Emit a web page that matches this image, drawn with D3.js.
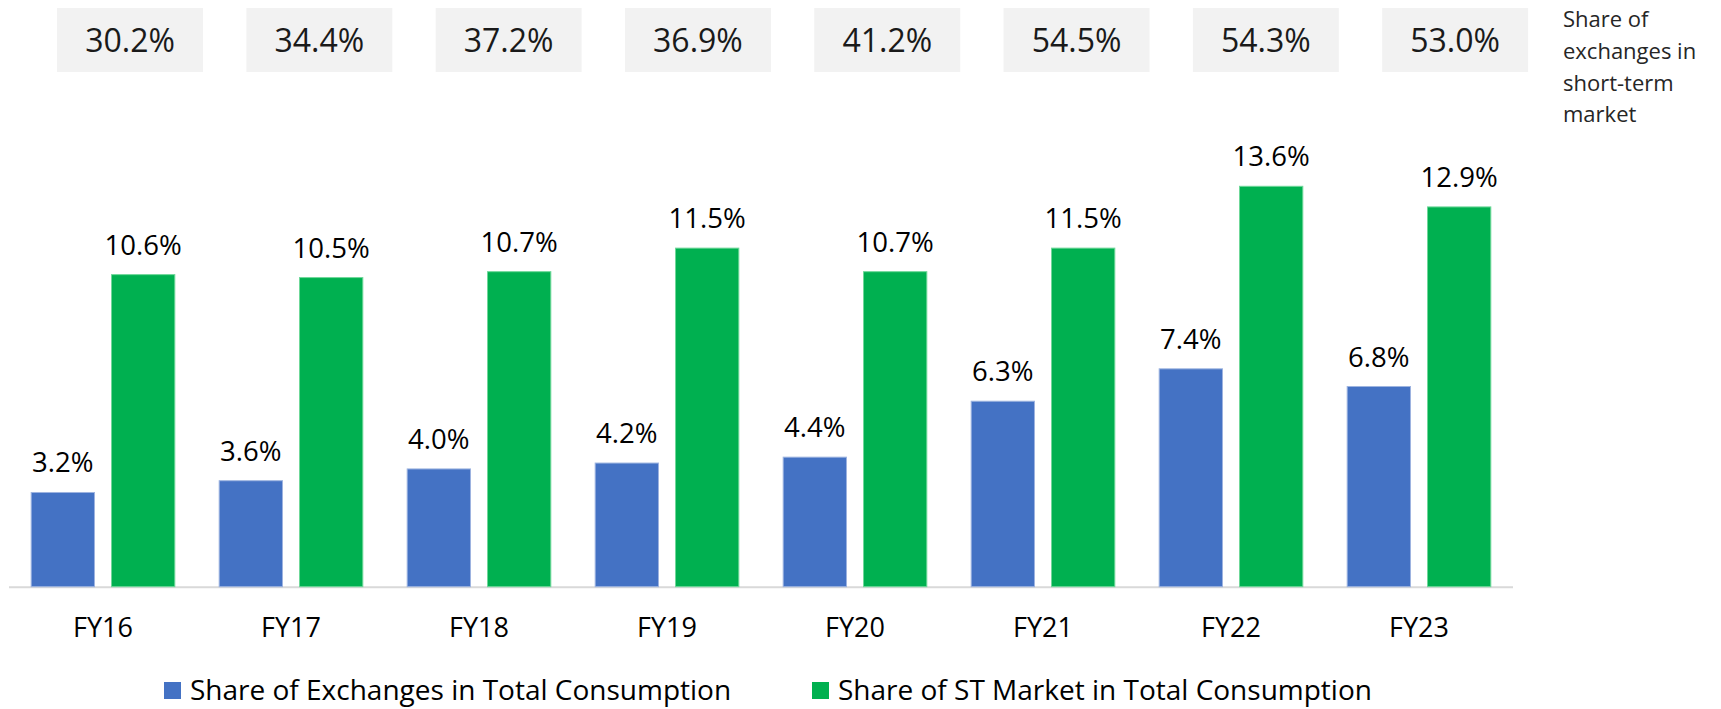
<!DOCTYPE html>
<html>
<head>
<meta charset="utf-8">
<script src="https://cdn.jsdelivr.net/npm/d3@7"></script>
<style>
  body { margin: 0; background: #fff; }
  text { font-family: "Open Sans", sans-serif; }
</style>
</head>
<body>
<svg width="1721" height="709"></svg>
<script>
// data
var categories = ["FY16", "FY17", "FY18", "FY19", "FY20", "FY21", "FY22", "FY23"];
var exchangeShare = [3.2, 3.6, 4.0, 4.2, 4.4, 6.3, 7.4, 6.8];
var stMarketShare = [10.6, 10.5, 10.7, 11.5, 10.7, 11.5, 13.6, 12.9];
var exchangeInST = [30.2, 34.4, 37.2, 36.9, 41.2, 54.5, 54.3, 53.0];
var seriesNames = ["Share of Exchanges in Total Consumption", "Share of ST Market in Total Consumption"];
var seriesColors = ["#4472c4", "#00b050"];
var seriesStrokes = ["#9db4e0", "#6fd89a"];

var svg = d3.select("svg");

var x0 = d3.scaleBand()
  .domain(categories)
  .range([9, 1513])
  .paddingInner(0.236)
  .paddingOuter(0.118);

var x1 = d3.scaleBand()
  .domain([0, 1])
  .range([0, x0.bandwidth()])
  .paddingInner(0.212);

var y = d3.scaleLinear()
  .domain([0, 13.6])
  .range([586.7, 186.3]);

// boxes on top use their own band
var xb = d3.scaleBand()
  .domain(categories)
  .range([35.4, 1549.8])
  .paddingInner(0.229)
  .paddingOuter(0.1145);

var rows = categories.map(function(c, i) {
  return { cat: c, values: [exchangeShare[i], stMarketShare[i]], top: exchangeInST[i] };
});

// axis line
svg.append("line")
  .attr("x1", x0.range()[0])
  .attr("x2", x0.range()[1])
  .attr("y1", y(0) + 0.5)
  .attr("y2", y(0) + 0.5)
  .attr("stroke", "#d9d9d9")
  .attr("stroke-width", 2);

var groups = svg.selectAll("g.grp")
  .data(rows)
  .enter()
  .append("g")
  .attr("class", "grp")
  .attr("transform", function(d) { return "translate(" + x0(d.cat) + ",0)"; });

groups.selectAll("rect")
  .data(function(d) { return d.values.map(function(v, k) { return { k: k, v: v }; }); })
  .enter()
  .append("rect")
  .attr("x", function(d) { return x1(d.k); })
  .attr("width", x1.bandwidth())
  .attr("y", function(d) { return y(d.v); })
  .attr("height", function(d) { return y(0) - y(d.v); })
  .attr("fill", function(d) { return seriesColors[d.k]; })
  .attr("stroke", function(d) { return seriesStrokes[d.k]; })
  .attr("stroke-width", 1);

groups.selectAll("text.val")
  .data(function(d) { return d.values.map(function(v, k) { return { k: k, v: v }; }); })
  .enter()
  .append("text")
  .attr("class", "val")
  .attr("x", function(d) { return x1(d.k) + x1.bandwidth() / 2; })
  .attr("y", function(d) { return y(d.v) - 20; })
  .attr("text-anchor", "middle")
  .attr("font-size", 27.5)
  .attr("fill", "#000")
  .text(function(d) { return d.v.toFixed(1) + "%"; });

// category labels
svg.selectAll("text.cat")
  .data(categories)
  .enter()
  .append("text")
  .attr("class", "cat")
  .attr("x", function(d) { return x0(d) + x0.bandwidth() / 2; })
  .attr("y", 637)
  .attr("text-anchor", "middle")
  .attr("font-size", 27)
  .attr("fill", "#000")
  .text(function(d) { return d; });

// top grey boxes
var boxes = svg.selectAll("g.box")
  .data(rows)
  .enter()
  .append("g")
  .attr("class", "box");

boxes.append("rect")
  .attr("x", function(d) { return xb(d.cat); })
  .attr("y", 8)
  .attr("width", xb.bandwidth())
  .attr("height", 64)
  .attr("fill", "#f2f2f2");

boxes.append("text")
  .attr("x", function(d) { return xb(d.cat) + xb.bandwidth() / 2; })
  .attr("y", 52)
  .attr("text-anchor", "middle")
  .attr("font-size", 32)
  .attr("fill", "#1a1a1a")
  .text(function(d) { return d.top.toFixed(1) + "%"; });

// side note
var note = svg.append("text")
  .attr("x", 1563)
  .attr("y", 27)
  .attr("font-size", 22)
  .attr("fill", "#262626");
["Share of", "exchanges in", "short-term", "market"].forEach(function(t, i) {
  note.append("tspan").attr("x", 1563).attr("dy", i ? 31.8 : 0).text(t);
});

// legend
var legendX = [164, 812];
var legend = svg.selectAll("g.leg")
  .data(seriesNames)
  .enter()
  .append("g")
  .attr("class", "leg")
  .attr("transform", function(d, i) { return "translate(" + legendX[i] + ",682)"; });

legend.append("rect")
  .attr("width", 17)
  .attr("height", 17)
  .attr("fill", function(d, i) { return seriesColors[i]; });

legend.append("text")
  .attr("x", 26)
  .attr("y", 18)
  .attr("font-size", 28)
  .attr("fill", "#000")
  .text(function(d) { return d; });
</script>
</body>
</html>
